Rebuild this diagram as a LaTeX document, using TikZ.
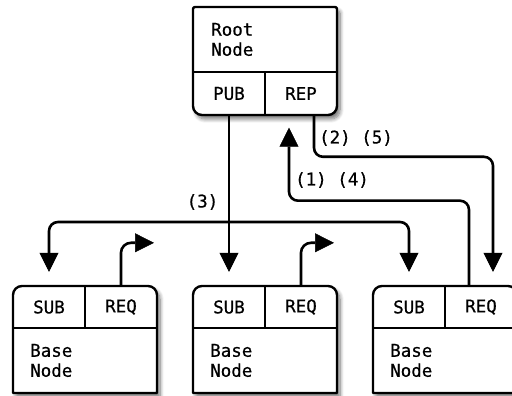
\documentclass[tikz,border=0pt]{standalone}
\usepackage{fontspec}
\setmainfont{DejaVu Sans Mono}[FakeBold=0.6]
\usetikzlibrary{arrows.meta,calc,shadows.blur}
\tikzset{
  every picture/.style={x=1pt,y=1pt},
  boxline/.style={line width=2.4pt, fill=white, line join=round,
    blur shadow={shadow xshift=3pt, shadow yshift=-4pt, shadow blur radius=4pt, shadow blur steps=8, shadow opacity=55}},
  divider/.style={line width=2.4pt},
  txt/.style={font=\fontsize{17.5}{20}\selectfont, inner sep=0pt},
  cell/.style={txt, minimum width=72pt, minimum height=42pt, anchor=center},
  conn/.style={draw=black, line width=2.6pt, -{Triangle[length=19pt,width=19pt,fill=black,line width=0.5pt]}},
  conn2/.style={draw=black, line width=2.6pt, {Triangle[length=19pt,width=19pt,fill=black,line width=0.5pt]}-{Triangle[length=19pt,width=19pt,fill=black,line width=0.5pt]}},
  lbl/.style={txt}
}
\begin{document}
\begin{tikzpicture}
\useasboundingbox (0,0) rectangle (512,396);
% root box
\draw[boxline] (193,330) -- (193,387) arc[start angle=180,end angle=90,radius=2] -- (335,389) arc[start angle=90,end angle=0,radius=2] -- (337,290) arc[start angle=0,end angle=-90,radius=9] -- (202,281) arc[start angle=270,end angle=180,radius=9] -- cycle;
\draw[divider] (193,324) -- (337,324) (265,324) -- (265,281);
\node[txt, anchor=west, align=left] (roottxt) at (211,356.5) {Root\\Node};
\node[cell] (pub) at (229,302.5) {PUB};
\node[cell] (rep) at (301,302.5) {REP};
% base boxes
\foreach \x/\n in {13/l,193/m,373/r}{
  \draw[boxline] (\x,3) -- (\x,101) arc[start angle=180,end angle=90,radius=9] -- (\x+135,110) arc[start angle=90,end angle=0,radius=9] -- (\x+144,3) -- cycle;
  \draw[divider] (\x,68) -- (\x+144,68) (\x+72,68) -- (\x+72,110);
  \node[cell] (\n sub) at (\x+36,89) {SUB};
  \node[cell] (\n req) at (\x+108,89) {REQ};
  \node[txt, anchor=west, align=left] (\n base) at (\x+17,35.5) {Base\\Node};
}
% connectors
\coordinate (b3) at (229,174);
\draw[conn] (pub.south) -- ($(msub.north)+(0,14)$);
\draw[conn2, rounded corners=9pt] ($(lsub.north)+(0,14)$) |- (b3) -| ($(rsub.north)+(0,14)$);
\draw[conn, rounded corners=9pt] ($(rreq.north)+(-12,0)$) |- ($(rep.south)+(-12,-86)$) -- ($(rep.south)+(-12,-13)$);
\draw[conn, rounded corners=9pt] ($(rep.south)+(13,0)$) |- ($(rreq.north)+(12,129)$) -- ($(rreq.north)+(12,14)$);
\draw[conn, rounded corners=10pt] (lreq.north) |- ($(lreq.north)+(33,43)$);
\draw[conn, rounded corners=10pt] (mreq.north) |- ($(mreq.north)+(33,43)$);
% labels
\node[lbl] (l3) at (202.5,194) {(3)};
\node[lbl] (l14) at (332,216) {(1) (4)};
\node[lbl] (l25) at (356,258) {(2) (5)};
\end{tikzpicture}
\end{document}
